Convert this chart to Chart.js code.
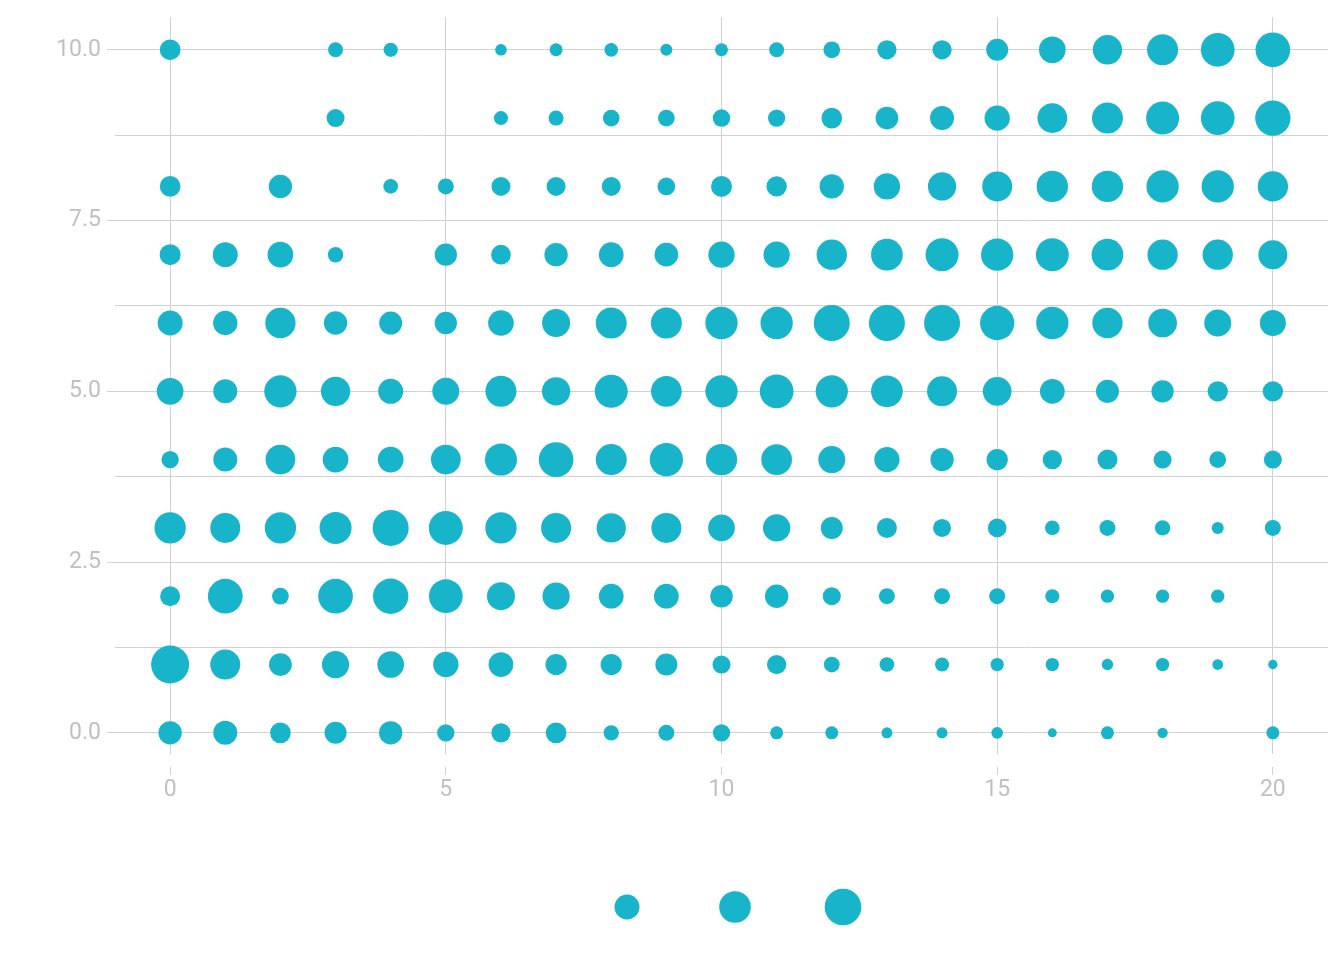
<!DOCTYPE html>
<html>
<head>
<meta charset="utf-8">
<script src="https://cdn.jsdelivr.net/npm/chart.js@4.4.1/dist/chart.umd.min.js"></script>
<style>
  html, body { margin: 0; padding: 0; background: #ffffff; }
  #wrap { width: 1344px; height: 960px; position: relative; }
</style>
</head>
<body>
<div id="wrap"><canvas id="c" width="1344" height="960"></canvas></div>
<script>
// ---- data ----
const xValues = [0,1,2,3,4,5,6,7,8,9,10,11,12,13,14,15,16,17,18,19,20];
const yLevels = [0,1,2,3,4,5,6,7,8,9,10];
// bubble size values per row (y level), one entry per x; null = no point
const sizeY0  = [136,144,107,121,136,75,93,107,59,64,75,42,42,30,30,34,20,42,27,null,42];
const sizeY1  = [361,225,129,186,178,160,153,113,113,121,81,93,62,54,49,44,44,32,44,29,22];
const sizeY2  = [100,301,70,301,312,284,196,186,153,153,127,136,81,64,64,64,49,44,44,44,null];
const sizeY3  = [245,225,245,256,324,289,245,225,215,225,178,186,121,100,81,87,54,64,59,36,64];
const sizeY4  = [75,144,221,165,165,221,256,301,240,277,245,236,182,160,136,113,93,100,81,70,81];
const sizeY5  = [178,144,261,215,156,182,240,200,272,236,261,284,261,251,225,206,153,132,124,103,103];
const sizeY6  = [156,148,230,136,132,124,165,196,240,240,261,261,324,324,324,294,261,230,206,182,169];
const sizeY7  = [110,156,165,59,null,124,97,136,153,140,173,173,230,251,272,261,272,251,230,230,210];
const sizeY8  = [107,null,136,null,54,64,90,90,90,78,110,103,148,173,200,225,245,245,261,261,230];
const sizeY9  = [null,null,null,81,null,null,49,56,70,70,77,75,107,129,144,160,221,240,272,284,312];
const sizeY10 = [107,null,null,56,51,null,34,42,47,36,42,56,70,93,93,121,178,215,240,284,301];
const sizeRows = [sizeY0,sizeY1,sizeY2,sizeY3,sizeY4,sizeY5,sizeY6,sizeY7,sizeY8,sizeY9,sizeY10];
const legendSizes = [156, 250, 336];
const xTickValues = [0,5,10,15,20];
const yTickValues = [0,1.25,2.5,3.75,5,6.25,7.5,8.75,10];
const yLabelValues = [0,2.5,5,7.5,10];

// ---- styling ----
const COLOR = '#18b4c9';
const GRID = '#d2d2d2';
const TEXT = '#c0c0c0';
const FONT = 'Roboto';
const radiusOf = v => Math.sqrt(v);

const points = [];
sizeRows.forEach((row, yi) => {
  row.forEach((v, xi) => {
    if (v !== null) points.push({ x: xValues[xi], y: yLevels[yi], r: radiusOf(v) });
  });
});

const sizeLegend = {
  id: 'sizeLegend',
  afterDraw(chart) {
    const ctx = chart.ctx;
    const cx = chart.width / 2 + 63;
    const cy = 907;
    const gap = 108;
    ctx.save();
    ctx.fillStyle = COLOR;
    legendSizes.forEach((v, i) => {
      ctx.beginPath();
      ctx.arc(cx + (i - 1) * gap, cy, radiusOf(v), 0, Math.PI * 2);
      ctx.fill();
    });
    ctx.restore();
  }
};

new Chart(document.getElementById('c'), {
  type: 'bubble',
  data: {
    datasets: [{
      data: points,
      backgroundColor: COLOR,
      borderWidth: 0,
      hoverBorderWidth: 0,
      hoverRadius: 0
    }]
  },
  options: {
    responsive: false,
    animation: false,
    events: [],
    layout: { autoPadding: false, padding: { top: 17, right: 16, bottom: 146, left: 0 } },
    plugins: { legend: { display: false }, tooltip: { enabled: false } },
    scales: {
      x: {
        type: 'linear',
        min: -1,
        max: 21,
        afterBuildTicks: s => { s.ticks = xTickValues.map(v => ({ value: v })); },
        afterFit: s => { s.height = 60; s.paddingLeft = 0; s.paddingRight = 0; },
        border: { display: false },
        grid: {
          color: GRID,
          lineWidth: 1,
          drawTicks: true,
          tickLength: 21,
          tickColor: GRID,
          tickBorderDash: [0, 13, 8, 100]
        },
        ticks: {
          color: TEXT,
          padding: 1,
          maxRotation: 0,
          font: { family: FONT, size: 23 },
          callback: v => String(v)
        }
      },
      y: {
        type: 'linear',
        min: -0.31,
        max: 10.48,
        afterBuildTicks: s => { s.ticks = yTickValues.map(v => ({ value: v })); },
        afterFit: s => { s.width = 115; s.paddingTop = 0; s.paddingBottom = 0; },
        border: { display: false },
        grid: {
          color: GRID,
          lineWidth: 1,
          drawTicks: true,
          tickLength: 8,
          tickColor: c => (c.tick && yLabelValues.includes(c.tick.value)) ? GRID : 'rgba(0,0,0,0)'
        },
        ticks: {
          color: TEXT,
          padding: 6,
          font: { family: FONT, size: 23 },
          callback: v => yLabelValues.includes(v) ? v.toFixed(1) : ''
        }
      }
    }
  },
  plugins: [sizeLegend]
});
</script>
</body>
</html>
